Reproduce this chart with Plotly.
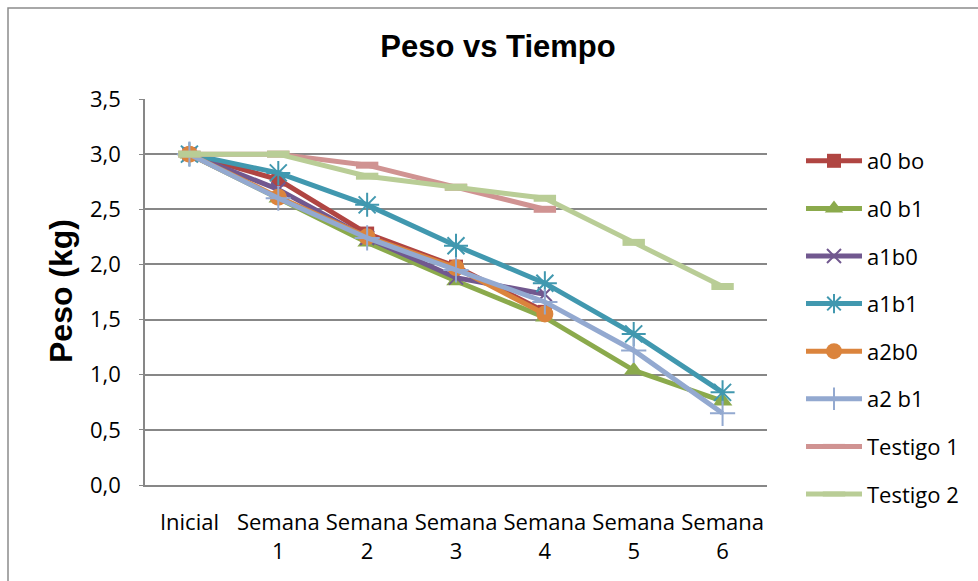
import plotly.graph_objects as go

# Weeks of the trial
categorias = ["Inicial", "Semana<br>1", "Semana<br>2", "Semana<br>3",
              "Semana<br>4", "Semana<br>5", "Semana<br>6"]

# Weight (kg) per treatment
a0_bo = [3.0, 2.77, 2.28, 1.98, 1.57, None, None]
a0_b1 = [3.0, 2.60, 2.20, 1.85, 1.52, 1.04, 0.76]
a1b0 = [3.0, 2.68, 2.24, 1.88, 1.73, None, None]
a1b1 = [3.0, 2.83, 2.54, 2.17, 1.83, 1.37, 0.84]
a2b0 = [3.0, 2.61, 2.25, 1.97, 1.55, None, None]
a2_b1 = [3.0, 2.60, 2.24, 1.95, 1.66, 1.22, 0.65]
testigo_1 = [3.0, 3.0, 2.90, 2.70, 2.50, None, None]
testigo_2 = [3.0, 3.0, 2.80, 2.70, 2.60, 2.20, 1.80]

series = [
    ("a0 bo", a0_bo, "#B04542", "square", 14, 0),
    ("a0 b1", a0_b1, "#8BAA4C", "triangle-up", 17, 0),
    ("a1b0", a1b0, "#71588F", "x-thin-open", 14, 2),
    ("a1b1", a1b1, "#4198AF", "asterisk-open", 20, 2),
    ("a2b0", a2b0, "#DB843D", "circle", 17, 0),
    ("a2 b1", a2_b1, "#93A9D0", "cross-thin-open", 18, 2),
    ("Testigo 1", testigo_1, "#D09392", "line-ew-open", 16, 7),
    ("Testigo 2", testigo_2, "#B9CD96", "line-ew-open", 16, 7),
]

fig = go.Figure()
for i, (nombre, valores, color, simbolo, tam, borde) in enumerate(series):
    fig.add_trace(go.Scatter(
        x=categorias, y=valores, name=nombre, mode="lines+markers",
        legendgroup=f"g{i}",
        line=dict(color=color, width=5),
        marker=dict(symbol=simbolo, size=tam, color=color,
                    line=dict(color=color, width=borde)),
    ))

GRIS = "#878787"
L, R, T, B = 145, 211, 99, 96
W, H = 978, 581
pw, ph = W - L - R, H - T - B

fig.update_layout(
    width=W, height=H,
    margin=dict(l=L, r=R, t=T, b=B),
    paper_bgcolor="white", plot_bgcolor="white",
    separators=",.",
    font=dict(family="Open Sans", size=22, color="#000000"),
    title=dict(text="<b>Peso vs Tiempo</b>", x=498 / W, xanchor="center",
               y=1 - 46 / H, yanchor="middle",
               font=dict(family="Liberation Sans", size=31, color="#000000")),
    showlegend=True,
    legend=dict(x=(801 - L) / pw, xanchor="left", y=(H - B - 140) / ph,
                yanchor="top", traceorder="grouped", tracegroupgap=16,
                itemwidth=56, maxheight=600,
                font=dict(family="Open Sans", size=22, color="#000000"),
                bgcolor="rgba(0,0,0,0)"),
    xaxis=dict(type="category", range=[-0.5, 6.5], showgrid=False,
               showline=True, linecolor=GRIS, linewidth=1.5,
               ticks="", ticklabelstandoff=17, tickfont=dict(size=22)),
    yaxis=dict(range=[0, 3.5], dtick=0.5, tickformat=".1f",
               showgrid=True, gridcolor=GRIS, gridwidth=1.5,
               showline=True, linecolor=GRIS, linewidth=1.5,
               ticks="outside", ticklen=4, tickcolor=GRIS,
               ticklabelstandoff=14,
               zeroline=False, tickfont=dict(size=22)),
    annotations=[dict(text="<b>Peso (kg)</b>", textangle=-90,
                      xref="paper", yref="paper",
                      x=(61 - L) / pw, y=(H - B - 291) / ph,
                      xanchor="center", yanchor="middle", showarrow=False,
                      font=dict(family="Liberation Sans", size=32,
                                color="#000000"))],
    shapes=[dict(type="rect", xref="paper", yref="paper",
                 x0=(8 - L) / pw, x1=(W + 20 - L) / pw,
                 y0=(H - B - (H + 20)) / ph, y1=(H - B - 8) / ph,
                 line=dict(color="#8C8C8C", width=1.5),
                 fillcolor="rgba(0,0,0,0)", layer="below")],
)

fig.write_html("out.html")
